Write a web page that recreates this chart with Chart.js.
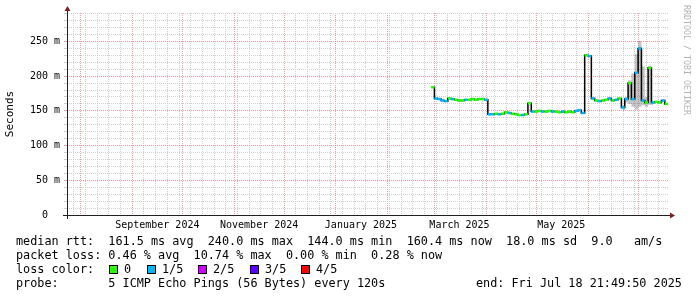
<!DOCTYPE html>
<html>
<head>
<meta charset="utf-8">
<script src="https://cdn.jsdelivr.net/npm/chart.js@4.4.1/dist/chart.umd.min.js"></script>
<style>
  html, body { margin: 0; padding: 0; background: #fff; }
  #wrap { position: relative; width: 697px; height: 297px; font-family: "DejaVu Sans Mono", monospace; color: #000; }
  #chart { position: absolute; left: 0; top: 0; }
  .leg { position: absolute; font-size: 11.8px; line-height: 14px; white-space: pre; }
  .sw { position: absolute; width: 7px; height: 7px; border: 1px solid #000; }
  #mark { position: absolute; left: 682px; top: 5px; writing-mode: vertical-rl; font-size: 8.3px; color: #b4b4b4; white-space: pre; }
</style>
</head>
<body>
<div id="wrap">
  <canvas id="chart" width="697" height="297"></canvas>
  <div id="mark">RRDTOOL / TOBI OETIKER</div>
  <div class="leg" style="left:16px;top:234px">median rtt:  161.5 ms avg  240.0 ms max  144.0 ms min  160.4 ms now  18.0 ms sd  9.0   am/s</div>
  <div class="leg" style="left:16px;top:248px">packet loss: 0.46 % avg  10.74 % max  0.00 % min  0.28 % now</div>
  <div class="leg" style="left:16px;top:262px">loss color:</div>
  <div id="lossLegend"></div>
  <div class="leg" style="left:16px;top:276px">probe:       5 ICMP Echo Pings (56 Bytes) every 120s</div>
  <div class="leg" style="left:476px;top:276px">end: Fri Jul 18 21:49:50 2025</div>
</div>
<script>
(function () {

  // ---- time frame (rrd end time, 360 days back) ----
  const DAY = 86400000;
  const END = Date.UTC(2025, 6, 18, 21, 49, 50);
  const START = END - 360 * DAY;

  // samples every 2 days, first one on 28 Feb 2025
  const FIRST_SAMPLE = Date.UTC(2025, 1, 28);
  const STEP_DAYS = 2;

  // median rtt in ms
  const medianMs = [
    184, 168, 167, 165, 164, 168, 167, 166, 165, 165,
    166, 166, 167, 166, 167, 167, 166, 145, 145, 146,
    145, 146, 148, 147, 146, 145, 144, 144, 145, 161,
    149, 149, 150, 149, 149, 150, 149, 149, 148, 149,
    148, 149, 148, 150, 151, 147, 230, 229, 168, 165,
    164, 165, 166, 168, 165, 166, 168, 155, 167, 190,
    167, 205, 240, 165, 162, 212, 162, 163, 162, 165,
    160
  ];

  // lost pings out of 5 for each sample
  const lossOf5 = [
    0, 1, 1, 1, 1, 0, 1, 0, 0, 0,
    1, 0, 0, 0, 0, 0, 1, 1, 1, 0,
    1, 0, 0, 1, 0, 0, 0, 1, 0, 0,
    1, 0, 0, 1, 0, 0, 1, 0, 0, 1,
    0, 0, 0, 1, 1, 1, 0, 1, 1, 0,
    1, 0, 0, 1, 0, 1, 0, 1, 1, 0,
    1, 1, 1, 1, 0, 0, 1, 0, 0, 1,
    0
  ];

  // smoke (spread of the pings) where it is visible
  const SMOKE_FROM = 57;
  const smokeLow = [151, 162, 160, 156, 152, 156, 158, 156, 159, 158];
  const smokeHigh = [158, 170, 194, 204, 232, 251, 214, 170, 215, 165];

  const lossColors = ["#26ff00", "#00b8ff", "#d000ff", "#5e00ff", "#ff0000"];
  const lossLabels = ["0", "1/5", "2/5", "3/5", "4/5"];

  const monthLabels = ["September 2024", "November 2024", "January 2025", "March 2025", "May 2025"];
  const monthLabelDates = ["2024-09-16", "2024-11-16", "2025-01-16", "2025-03-16", "2025-05-16"];

  const Y_MAX = 291;
  const Y_MINOR = 10;
  const Y_MAJOR = 50;

  const GRID = "#cfcfcf";
  const MGRID = "#eea0a0";
  const FONT = "'DejaVu Sans Mono', monospace";

  const sampleX = i => FIRST_SAMPLE + i * STEP_DAYS * DAY;

  const medianPts = medianMs.map((v, i) => ({ x: sampleX(i), y: v }));
  const lowPts = smokeLow.map((v, i) => ({ x: sampleX(SMOKE_FROM + i), y: v }));
  const highPts = smokeHigh.map((v, i) => ({ x: sampleX(SMOKE_FROM + i), y: v }));

  // loss colour legend
  const lg = document.getElementById("lossLegend");
  const boxLeft = [109, 147, 198, 250, 301];
  lossLabels.forEach((lab, i) => {
    const b = document.createElement("div");
    b.className = "sw";
    b.style.left = boxLeft[i] + "px";
    b.style.top = "265px";
    b.style.background = lossColors[i];
    lg.appendChild(b);
    const t = document.createElement("div");
    t.className = "leg";
    t.style.left = (boxLeft[i] + 15) + "px";
    t.style.top = "262px";
    t.textContent = lab;
    lg.appendChild(t);
  });

  // x grid: sundays (minor), month starts (major), label spots
  function buildXTicks(scale) {
    const out = [];
    const majors = new Set();
    for (let m = 6; ; m++) {
      const v = Date.UTC(2024, m, 1);
      if (v > END) break;
      if (v >= START) { out.push({ value: v, kind: "major" }); majors.add(v); }
    }
    for (let d = Date.UTC(2024, 6, 28); d <= END; d += 7 * DAY) {
      if (d >= START && !majors.has(d)) out.push({ value: d, kind: "minor" });
    }
    monthLabelDates.forEach((s, i) => {
      out.push({ value: Date.parse(s + "T00:00:00Z"), kind: "label", text: monthLabels[i] });
    });
    out.sort((a, b) => a.value - b.value);
    scale.ticks = out;
  }

  function buildYTicks(scale) {
    const out = [];
    for (let v = 0; v <= Y_MAX; v += Y_MINOR) out.push({ value: v });
    scale.ticks = out;
  }

  const xGridColor = c => {
    const k = c.tick && c.tick.kind;
    if (k === "major") return MGRID;
    if (k === "minor") return GRID;
    return "rgba(0,0,0,0)";
  };
  const yGridColor = c => (c.tick && c.tick.value % Y_MAJOR === 0) ? MGRID : GRID;

  const axisArrows = {
    id: "axisArrows",
    afterDraw(chart) {
      const { ctx, chartArea: a } = chart;
      const ax = Math.round(a.left) + 0.5;
      const ay = Math.round(a.bottom) + 0.5;
      ctx.save();
      ctx.strokeStyle = "#1f1f1f";
      ctx.lineWidth = 1;
      ctx.beginPath();
      ctx.moveTo(a.left - 4, ay);
      ctx.lineTo(a.right + 3, ay);
      ctx.moveTo(ax, a.bottom + 4);
      ctx.lineTo(ax, a.top - 3);
      ctx.stroke();
      ctx.fillStyle = "#7f1f1f";
      ctx.beginPath();
      ctx.moveTo(a.right + 7, ay);
      ctx.lineTo(a.right + 2, ay - 3);
      ctx.lineTo(a.right + 2, ay + 3);
      ctx.closePath();
      ctx.fill();
      ctx.beginPath();
      ctx.moveTo(ax, a.top - 7);
      ctx.lineTo(ax - 3, a.top - 2);
      ctx.lineTo(ax + 3, a.top - 2);
      ctx.closePath();
      ctx.fill();
      ctx.restore();
    }
  };

  new Chart(document.getElementById("chart"), {
    type: "line",
    data: {
      datasets: [
        {
          label: "median",
          data: medianPts,
          stepped: "middle",
          borderColor: "#000",
          borderWidth: 1.5,
          pointStyle: "line",
          pointRadius: 1.7,
          pointBorderWidth: 2.5,
          pointBorderColor: lossOf5.map(n => lossColors[n]),
          order: 1
        },
        {
          label: "smoke low",
          data: lowPts,
          stepped: "middle",
          borderWidth: 0,
          pointRadius: 0,
          fill: false,
          order: 3
        },
        {
          label: "smoke high",
          data: highPts,
          stepped: "middle",
          borderWidth: 0,
          pointRadius: 0,
          fill: "-1",
          backgroundColor: "rgba(90,90,90,0.35)",
          order: 2
        }
      ]
    },
    options: {
      responsive: false,
      animation: false,
      events: [],
      layout: { padding: { left: 0, right: 29, top: 13, bottom: 0 } },
      plugins: { legend: { display: false }, tooltip: { enabled: false } },
      scales: {
        x: {
          type: "linear",
          min: START,
          max: END,
          afterBuildTicks: buildXTicks,
          afterFit: s => { s.height = 82; },
          grid: { color: xGridColor, lineWidth: 1, drawTicks: false },
          border: { display: false, dash: [1, 1] },
          ticks: {
            autoSkip: false,
            maxRotation: 0,
            padding: 4,
            color: "#000",
            font: { family: FONT, size: 10 },
            callback: (v, i, ticks) => ticks[i].text || ""
          }
        },
        y: {
          min: 0,
          max: Y_MAX,
          afterBuildTicks: buildYTicks,
          afterFit: s => { s.width = 67; },
          grid: { color: yGridColor, lineWidth: 1, drawTicks: true, tickLength: 3, tickColor: yGridColor },
          border: { display: false, dash: [1, 1] },
          ticks: {
            autoSkip: false,
            padding: 4,
            color: "#000",
            font: { family: FONT, size: 10 },
            callback: v => v % Y_MAJOR !== 0 ? "" : (v === 0 ? "0  " : v + " m")
          },
          title: {
            display: true,
            text: "Seconds",
            color: "#000",
            font: { family: FONT, size: 11 },
            padding: { top: 4, bottom: 0 }
          }
        }
      }
    },
    plugins: [axisArrows]
  });

})();
</script>
</body>
</html>
